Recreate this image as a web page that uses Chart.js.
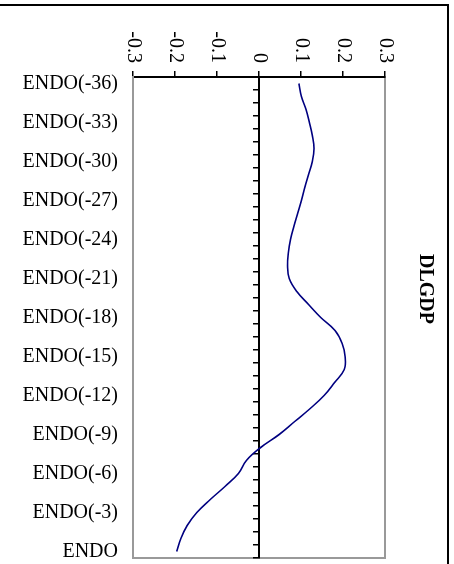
<!DOCTYPE html>
<html>
<head>
<meta charset="utf-8">
<script src="https://cdn.jsdelivr.net/npm/chart.js@4/dist/chart.umd.min.js"></script>
<style>
    html, body { margin: 0; padding: 0; background: #fff; overflow: hidden; }
    #frame {
        position: absolute; left: -3px; top: 4px;
        width: 448px; height: 600px;
        border: 2px solid #000;
    }
    #wrap { position: absolute; left: 0; top: 0; width: 454px; height: 564px; }
</style>
</head>
<body>
<div id="frame"></div>
<div id="wrap"><canvas id="irfChart"></canvas></div>
<script>
// Response of DLGDP to ENDO at lags -36 ... 0
const periods = [
    'ENDO(-36)', 'ENDO(-35)', 'ENDO(-34)', 'ENDO(-33)', 'ENDO(-32)', 'ENDO(-31)',
    'ENDO(-30)', 'ENDO(-29)', 'ENDO(-28)', 'ENDO(-27)', 'ENDO(-26)', 'ENDO(-25)',
    'ENDO(-24)', 'ENDO(-23)', 'ENDO(-22)', 'ENDO(-21)', 'ENDO(-20)', 'ENDO(-19)',
    'ENDO(-18)', 'ENDO(-17)', 'ENDO(-16)', 'ENDO(-15)', 'ENDO(-14)', 'ENDO(-13)',
    'ENDO(-12)', 'ENDO(-11)', 'ENDO(-10)', 'ENDO(-9)', 'ENDO(-8)', 'ENDO(-7)',
    'ENDO(-6)', 'ENDO(-5)', 'ENDO(-4)', 'ENDO(-3)', 'ENDO(-2)', 'ENDO(-1)', 'ENDO'
];
const dlgdp = [
    0.095, 0.101, 0.112, 0.120, 0.127, 0.131, 0.127, 0.118, 0.109, 0.101,
    0.092, 0.083, 0.075, 0.070, 0.068, 0.072, 0.090, 0.118, 0.147, 0.181,
    0.198, 0.205, 0.203, 0.180, 0.155, 0.122, 0.085, 0.048, 0.004, -0.030,
    -0.049, -0.081, -0.116, -0.148, -0.171, -0.186, -0.196
];
const valueTicks = { min: -0.3, max: 0.3, step: 0.1 };
const labelEvery = 3;

const serif = "'Liberation Serif', 'Times New Roman', serif";

// gray frame around the plot area (drawn first so the axes sit on top)
const plotFrame = {
    id: 'plotFrame',
    beforeDraw(chart) {
        const { ctx, chartArea } = chart;
        ctx.save();
        ctx.strokeStyle = '#999';
        ctx.lineWidth = 2;
        ctx.strokeRect(chartArea.left, chartArea.top, chartArea.right - chartArea.left, chartArea.bottom - chartArea.top);
        ctx.restore();
    }
};

// value labels on the top axis, turned to read downwards
const topLabels = {
    id: 'topLabels',
    afterDraw(chart) {
        const s = chart.scales.x;
        const ctx = chart.ctx;
        const yEnd = s.bottom - s.options.grid.tickLength - 8;
        ctx.save();
        ctx.font = '20px ' + serif;
        ctx.fillStyle = '#000';
        ctx.textAlign = 'right';
        ctx.textBaseline = 'middle';
        s.ticks.forEach(t => {
            ctx.save();
            ctx.translate(s.getPixelForValue(t.value), yEnd);
            ctx.rotate(Math.PI / 2);
            ctx.fillText(t.label, 0, 0);
            ctx.restore();
        });
        ctx.restore();
    }
};

const ctx = document.getElementById('irfChart').getContext('2d');
new Chart(ctx, {
    type: 'line',
    data: {
        labels: periods,
        datasets: [{
            label: 'DLGDP',
            data: dlgdp,
            borderColor: '#000080',
            borderWidth: 1.6,
            pointRadius: 0,
            tension: 0.4,
            fill: false,
            xAxisID: 'x',
            yAxisID: 'y'
        }]
    },
    options: {
        indexAxis: 'y',
        responsive: true,
        maintainAspectRatio: false,
        animation: false,
        layout: { padding: { top: 20, bottom: 6, left: 0, right: 17 } },
        plugins: {
            legend: { display: false },
            tooltip: { enabled: false },
            title: {
                display: true,
                text: 'DLGDP',
                position: 'right',
                color: '#000',
                font: { family: serif, size: 20, weight: 'bold' },
                padding: { top: 0, bottom: 28 }
            }
        },
        scales: {
            x: {
                type: 'linear',
                position: 'top',
                min: valueTicks.min,
                max: valueTicks.max,
                ticks: { display: false, stepSize: valueTicks.step },
                grid: { drawOnChartArea: false, tickLength: 6, color: '#000', lineWidth: 1.5 },
                border: { color: '#000', width: 2 },
                afterFit(scale) { scale.height = 57; }
            },
            y: {
                type: 'category',
                position: 'left',
                offset: true,
                ticks: {
                    autoSkip: false,
                    padding: 15,
                    color: '#000',
                    font: { family: serif, size: 20 },
                    callback(value, index) {
                        return index % labelEvery === 0 ? this.getLabelForValue(value) : '';
                    }
                },
                grid: { drawOnChartArea: false, drawTicks: false },
                border: { color: '#999', width: 2 },
                afterFit(scale) {
                    scale.width = 133;
                    scale.paddingTop = 0;
                    scale.paddingBottom = 0;
                }
            },
            // zero line with a tick for every period
            yZero: {
                type: 'category',
                position: { x: 0 },
                offset: true,
                ticks: { display: false, autoSkip: false },
                grid: { offset: true, drawOnChartArea: false, tickLength: 5, color: '#000', lineWidth: 1.5 },
                border: { color: '#000', width: 2 },
                afterFit(scale) {
                    scale.paddingTop = 0;
                    scale.paddingBottom = 0;
                }
            }
        }
    },
    plugins: [plotFrame, topLabels]
});
</script>
</body>
</html>
